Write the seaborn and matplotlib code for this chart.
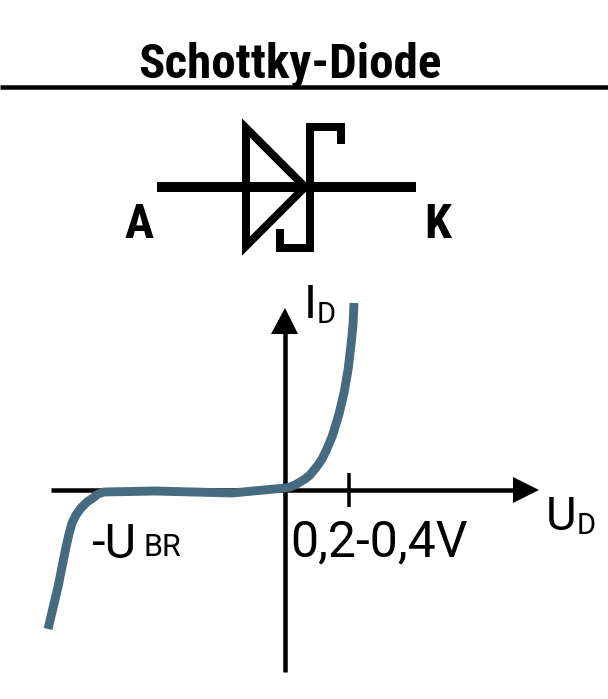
import pandas as pd
import matplotlib.pyplot as plt
import seaborn as sns

# Kennlinie, in Pixeln relativ zum Achsenursprung
u_curve = [-237, -232, -227, -223, -219, -216, -213, -209, -204, -198, -192, -187, -181, -130, -53, 0,
           5, 10, 15, 20, 25, 29, 33, 37, 41, 47, 51, 54, 59, 63, 66, 68, 69]
i_curve = [-139, -118, -97, -77, -57, -44, -33, -25, -18, -12, -8, -4, -2, -1, -3, 2,
           3, 5, 8, 11, 15, 20, 25, 31, 39, 53, 66, 76, 97, 120, 145, 165, 187]

OX, OY = 285, 490
BLACK = '#000000'
CURVE = '#466b80'


def px(x, y):
    return x - OX, OY - y


def stroke(ax, pts, lw):
    xs, ys = zip(*[px(*p) for p in pts])
    ax.plot(xs, ys, color=BLACK, lw=lw * 0.72, solid_capstyle='butt', solid_joinstyle='miter')


def label(ax, x, y, s, size, **kw):
    xx, yy = px(x, y)
    ax.text(xx, yy, s, fontsize=size, va='baseline', ha='left', color=BLACK, **kw)


sns.set_theme(style='white')
plt.rcParams['font.family'] = ['Roboto', 'DejaVu Sans']

fig = plt.figure(figsize=(6.08, 6.99), dpi=100)
ax = fig.add_axes([0, 0, 1, 1])

# Titel
narrow = dict(family=['Roboto Condensed', 'DejaVu Sans'], fontweight='bold')
label(ax, 138, 77, 'Schottky-Diode', 35.3, **narrow)
stroke(ax, [(0, 87), (608, 87)], 4.5)

# Schaltzeichen
stroke(ax, [(157, 187), (416, 187)], 10)
ax.fill(*zip(px(246, 246), px(246, 128), px(305, 187)), facecolor='none', edgecolor=BLACK,
        lw=8 * 0.72, joinstyle='miter')
stroke(ax, [(341, 144), (341, 127), (310, 127), (310, 248), (280, 248), (280, 229)], 8)
label(ax, 124, 238, 'A', 35, **narrow)
label(ax, 424, 238, 'K', 35, **narrow)

# Achsen
stroke(ax, [(51, 490), (515, 490)], 4.5)
stroke(ax, [(285, 672), (285, 332)], 4.5)
stroke(ax, [(349, 473), (349, 507)], 3.5)
ax.fill(*zip(px(513, 477), px(539, 490), px(513, 503)), color=BLACK, lw=0)
ax.fill(*zip(px(271, 334), px(285, 308), px(298, 334)), color=BLACK, lw=0)

# Kennlinie
curve = pd.DataFrame({'U': u_curve, 'I': i_curve})
sns.lineplot(data=curve, x='U', y='I', sort=False, estimator=None, ax=ax, color=CURVE, lw=6.4,
             solid_capstyle='butt', solid_joinstyle='round', legend=False)
ax.set_xlim(-OX, 608 - OX)
ax.set_ylim(OY - 699, OY)
ax.axis('off')

# Beschriftung
label(ax, 304, 318, 'I', 34)
label(ax, 317, 323, 'D', 21)
label(ax, 546, 530, 'U', 34)
label(ax, 577, 534, 'D', 21)
label(ax, 91, 558, '-U', 35)
label(ax, 143, 556, 'BR', 22)
label(ax, 290, 556, '0,2-0,4V', 36)

fig.savefig('out.png', dpi=100)
